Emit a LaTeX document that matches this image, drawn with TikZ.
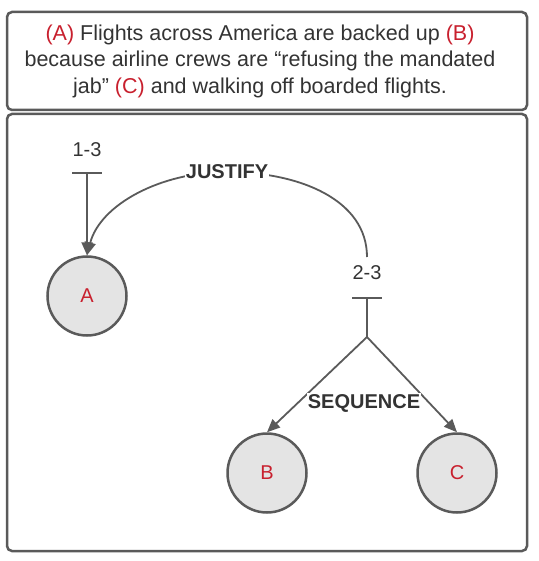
\documentclass[tikz,border=0pt]{standalone}
\usepackage{fontspec}
\setmainfont{Liberation Sans}
\usetikzlibrary{arrows.meta}
\definecolor{lc}{RGB}{90,90,90}
\definecolor{tc}{RGB}{51,51,51}
\definecolor{rc}{RGB}{200,32,46}
\definecolor{cf}{RGB}{228,228,228}
\begin{document}
\begin{tikzpicture}[x=1pt,y=-1pt,
  frame/.style={draw=lc,line width=2.5pt,rounded corners=5pt},
  circ/.style={circle,draw=lc,fill=cf,line width=2.5pt,minimum size=79pt,inner sep=0pt,text=rc,font=\fontsize{20}{22}\selectfont},
  lbl/.style={text=tc,font=\fontsize{20}{22}\selectfont,inner sep=1pt},
  rel/.style={text=tc,font=\bfseries\fontsize{20}{22}\selectfont,inner sep=1pt,fill=white},
  conn/.style={draw=lc,line width=1.8pt},
  arr/.style={conn,-{Triangle[length=13pt,width=11pt]}},
  bar/.style={draw=lc,line width=1.8pt}
]
\useasboundingbox (0,0) rectangle (538,561);
\draw[frame] (7,12) rectangle (527,110);
\draw[frame] (7,114) rectangle (527,551);
\node[text=tc,align=center,font=\fontsize{21.5}{26.5}\selectfont] (hdr) at (260,61)
 {\textcolor{rc}{(A)} Flights across America are backed up \textcolor{rc}{(B)}\\
  because airline crews are “refusing the mandated\\
  jab” \textcolor{rc}{(C)} and walking off boarded flights.};
\node[circ] (A) at (87,296) {A};
\node[circ] (B) at (267,473) {B};
\node[circ] (C) at (457,473) {C};
\node[lbl] (l13) at (87,150) {1-3};
\node[lbl] (l23) at (367,273) {2-3};
\coordinate (b13) at (87,173);
\coordinate (b23) at (367,298);
\coordinate (apex) at (367,337);
\coordinate (js) at (367,257);
\coordinate (J) at (227,172);
\draw[bar] (72,173) -- (102,173);
\draw[bar] (352,298) -- (382,298);
\draw[arr] (b13) -- (A.north);
\draw[conn] (b23) -- (apex);
\draw[arr] (apex) -- (B.north);
\draw[arr] (apex) -- (C.north);
\node[rel] (seq) at (364,403) {SEQUENCE};
\draw[arr] (js) .. controls (367,200) and (300,172) .. (J) .. controls (160,172) and (100,205) .. (A.north);
\node[rel] (jus) at (J) {JUSTIFY};
\end{tikzpicture}
\end{document}
